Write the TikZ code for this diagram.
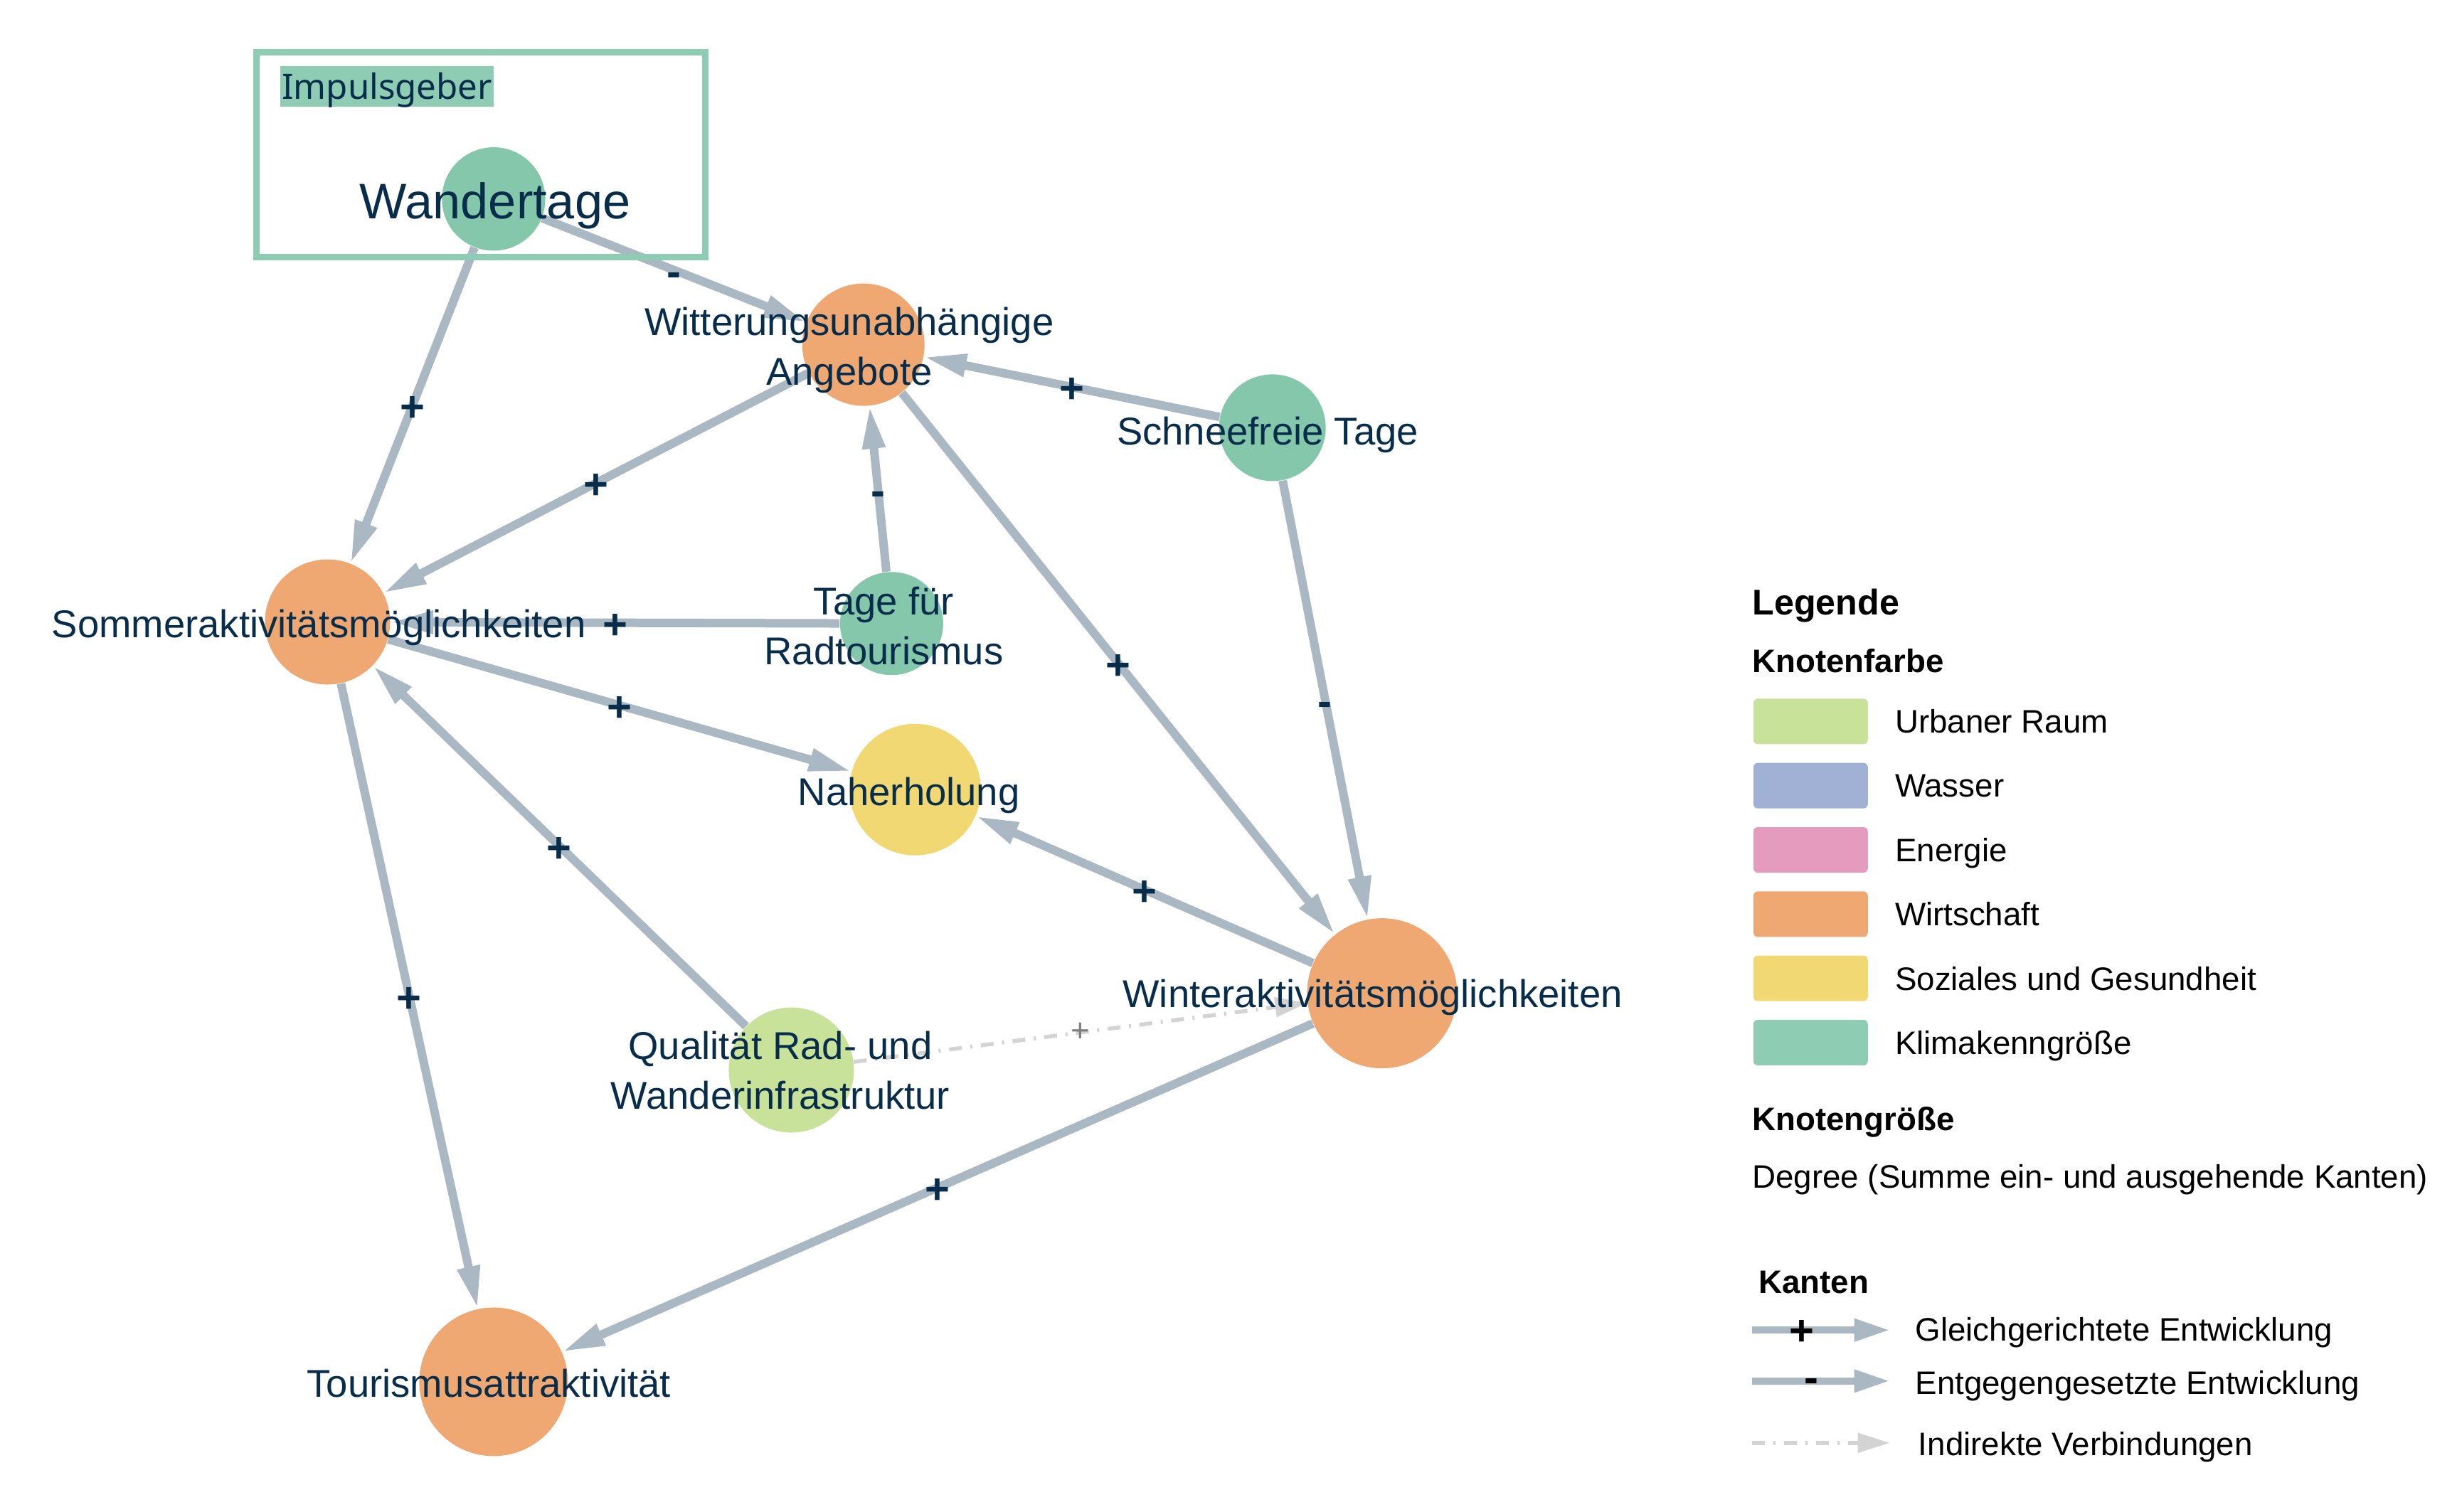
\documentclass[tikz,border=0pt]{standalone}
\usepackage{fontspec}
\setmainfont{Liberation Sans}
\newfontfamily\impfont{Noto Sans}
\usetikzlibrary{arrows.meta,positioning,calc}
\definecolor{navy}{RGB}{8,45,75}
\definecolor{edgegray}{RGB}{169,184,195}
\definecolor{indirekt}{RGB}{211,211,211}
\definecolor{klimaknoten}{RGB}{132,199,171}
\definecolor{klima}{RGB}{142,205,180}
\definecolor{wirtschaft}{RGB}{240,168,115}
\definecolor{sozial}{RGB}{242,216,115}
\definecolor{urban}{RGB}{201,226,154}
\definecolor{wasser}{RGB}{160,177,213}
\definecolor{energie}{RGB}{229,155,189}

\begin{document}
\begin{tikzpicture}[
  x=0.022028cm, y=-0.022028cm,
  knot/.style={circle,inner sep=0pt,minimum size=#1},
  lbl/.style={text=navy,align=center,inner sep=0pt,text depth=0pt,font=\fontsize{15.5}{20}\selectfont},
  arr/.style={draw=edgegray,line width=0.12cm,-{Triangle[length=0.6cm,width=0.3cm]}},
  indarr/.style={draw=indirekt,line width=0.055cm,dash pattern=on 0.18cm off 0.12cm on 0.03cm off 0.12cm,-{Triangle[length=0.45cm,width=0.27cm]}},
  legarr/.style={draw=edgegray,line width=0.1cm,-{Triangle[length=0.5cm,width=0.3cm]}},
  sgn/.style={text=navy,inner sep=0pt,text height=13pt,text depth=0pt,font=\bfseries\fontsize{17}{17}\selectfont},
  isgn/.style={text=black!50,inner sep=0pt,font=\fontsize{13}{13}\selectfont},
  swatch/.style={rounded corners=0.06cm,minimum width=1.608cm,minimum height=0.64cm,inner sep=0pt},
  legtxt/.style={anchor=west,inner sep=0pt,text depth=0pt,font=\fontsize{13}{15}\selectfont},
  leghead/.style={anchor=west,inner sep=0pt,text depth=0pt,font=\bfseries\fontsize{13}{15}\selectfont}
]
\useasboundingbox (0,0) rectangle (1568,965);

% Knoten
\node[knot=1.454cm,fill=klimaknoten] (wt) at (315,127) {};
\node[knot=1.72cm,fill=wirtschaft] (wa) at (551,220) {};
\node[knot=1.50cm,fill=klimaknoten] (sf) at (812,273) {};
\node[knot=1.76cm,fill=wirtschaft] (so) at (209,397) {};
\node[knot=1.45cm,fill=klimaknoten] (rt) at (569,398) {};
\node[knot=1.85cm,fill=sozial] (nh) at (584,504) {};
\node[knot=2.11cm,fill=wirtschaft] (wi) at (882,634) {};
\node[knot=1.76cm,fill=urban] (qi) at (505,683) {};
\node[knot=2.09cm,fill=wirtschaft] (ta) at (315,882) {};

% Kanten
\draw[arr] (wt) -- node[sgn] (e1) {-} (wa);
\draw[arr] (wt) -- node[sgn] (e2) {+} (so);
\draw[arr] (wa) -- node[sgn] (e3) {+} (so);
\draw[arr] (sf) -- node[sgn] (e4) {+} (wa);
\draw[arr] (rt) -- node[sgn] (e5) {-} (wa);
\draw[arr] (wa) -- node[sgn] (e6) {+} (wi);
\draw[arr] (sf) -- node[sgn] (e7) {-} (wi);
\draw[arr] (rt) -- node[sgn] (e8) {+} (so);
\draw[arr] (so) -- node[sgn] (e9) {+} (nh);
\draw[arr] (wi) -- node[sgn] (e10) {+} (nh);
\draw[arr] (qi) -- node[sgn] (e11) {+} (so);
\draw[arr] (so) -- node[sgn] (e12) {+} (ta);
\draw[arr] (wi) -- node[sgn] (e13) {+} (ta);
\draw[indarr] (qi) -- node[isgn] (e14) {+} (wi);

% Impulsgeber
\node[draw=klima,line width=0.09cm,minimum width=6.311cm,minimum height=2.875cm] (imp) at (306.75,98.75) {};
\node[fill=klima,text=navy,inner sep=0pt,text depth=0pt,minimum width=2.996cm,minimum height=0.573cm,font=\impfont\fontsize{14}{16}\selectfont] (ig) at (247,55) {Impulsgeber};

% Beschriftungen
\node[lbl,font=\fontsize{20}{24}\selectfont] (wt-t) at (316,128) {Wandertage};
\node[lbl] (wa-t) at (542,221) {Witterungsunabhängige\\Angebote};
\node[lbl] (sf-t) at (809,275) {Schneefreie Tage};
\node[lbl] (so-t) at (203.5,398) {Sommeraktivitätsmöglichkeiten};
\node[lbl] (rt-t) at (564,399.5) {Tage für\\Radtourismus};
\node[lbl] (nh-t) at (580,505) {Naherholung};
\node[lbl] (wi-t) at (876,634) {Winteraktivitätsmöglichkeiten};
\node[lbl] (qi-t) at (498,683) {Qualität Rad- und\\Wanderinfrastruktur};
\node[lbl] (ta-t) at (312,883) {Tourismusattraktivität};

% Legende
\node[leghead,font=\bfseries\fontsize{14.3}{16}\selectfont] (lg) at (1118,384) {Legende};
\node[leghead] (kf) at (1118,421.5) {Knotenfarbe};
\foreach \y/\c/\t [count=\i] in {460.5/urban/Urbaner Raum,501.5/wasser/Wasser,542.5/energie/Energie,583.5/wirtschaft/Wirtschaft,624.5/sozial/Soziales und Gesundheit,665.5/klima/Klimakenngröße}{
  \node[swatch,fill=\c] (sw\i) at (1155.5,\y) {};
  \node[legtxt,right=0.37cm of sw\i] (st\i) {\t};
}
\node[leghead] (kg) at (1118,714) {Knotengröße};
\node[legtxt] (dg) at (1118,751) {Degree (Summe ein- und ausgehende Kanten)};
\node[leghead] (ka) at (1122,818.5) {Kanten};
\coordinate (l1a) at (1118,849);
\coordinate (l1b) at (1206,849);
\coordinate (l2a) at (1118,881.5);
\coordinate (l2b) at (1206,881.5);
\coordinate (l3a) at (1118,921);
\coordinate (l3b) at (1206,921);
\draw[legarr] (l1a) -- node[sgn,text=black,text height=12pt,pos=0.36] (le1) {+} (l1b);
\draw[legarr] (l2a) -- node[sgn,text=black,text height=8.8pt,pos=0.43] (le2) {-} (l2b);
\draw[indarr] (l3a) -- (l3b);
\node[legtxt] (lt1) at (1222,848.5) {Gleichgerichtete Entwicklung};
\node[legtxt] (lt2) at (1222,882.5) {Entgegengesetzte Entwicklung};
\node[legtxt] (lt3) at (1224,921.5) {Indirekte Verbindungen};
\end{tikzpicture}
\end{document}
